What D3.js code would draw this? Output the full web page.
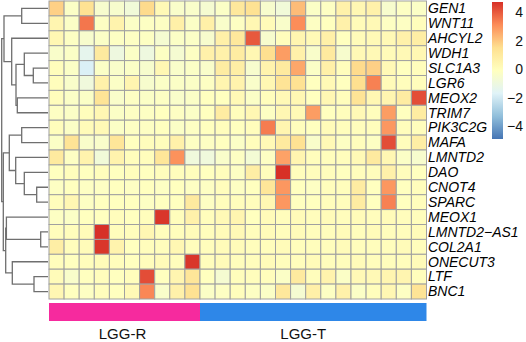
<!DOCTYPE html>
<html><head><meta charset="utf-8">
<script src="https://cdn.jsdelivr.net/npm/d3@7"></script>
<style>body{margin:0;background:#fff}svg{display:block}</style>
</head><body>
<script>
const genes = ["GEN1","WNT11","AHCYL2","WDH1","SLC1A3","LGR6","MEOX2","TRIM7","PIK3C2G","MAFA","LMNTD2","DAO","CNOT4","SPARC","MEOX1","LMNTD2\u2212AS1","COL2A1","ONECUT3","LTF","BNC1"];
const samples = d3.range(1, 26).map(i => "S" + i);
const groupNames = ["LGG-R", "LGG-T"];
const groupCounts = [10, 15];
const groupColors = ["#F62A9E", "#2E87E8"];
const legendTicks = [4, 2, 0, -2, -4];
const colorDomain = [-4.9, 4.7];
const palette = ["#4575B4","#91BFDB","#E0F3F8","#FFFFBF","#FEE090","#FC8D59","#D73027"];

const values = [
 [1.8,-0.3,1.4,-0.5,-0.5,-0.8,1.6,0.2,-0.4,-0.4,-0.6,-0.3,1.1,1.4,-0.5,-0.8,2.2,-0.3,-0.2,0.6,0.3,0.6,-0.5,-0.2,-0.3],
 [0.4,-0.3,3.5,-0.2,0.5,-0.3,-0.2,-0.2,0.7,-0.3,0.7,-0.4,-0.2,0.3,0.1,-0.4,3.1,-0.2,-0.1,0.6,0.1,0.2,-0.2,-0.2,0],
 [0.3,-0.2,-0.5,-0.3,-0.2,-0.2,-0.2,-0.6,-0.3,-0.3,-0.5,0.7,1.1,4.0,-0.5,0,0.4,0.2,0.7,-0.1,0.1,0.2,0.2,0.6,0.8],
 [-0.4,-0.3,-1.4,1.0,-1.0,-0.3,-1.0,-0.2,-0.6,-0.2,0.6,0.6,0.9,0.3,1.5,2.8,0.6,-0.4,1.0,-0.5,0.2,0.2,0.1,0.2,0.3],
 [0,-0.3,-1.8,-0.3,-0.4,-0.3,-0.5,0.3,-0.4,-0.3,-0.4,0.9,0.8,-0.5,0.5,1.0,2.6,-0.3,0.7,0,1.6,1.8,0.2,-0.1,0],
 [0,-0.4,-0.9,0.6,-0.3,0.4,-0.5,-0.3,-0.3,-0.3,-0.2,0.4,0.5,-0.4,0.3,1.3,1.4,-0.1,0.2,-0.1,1.5,3.3,0.1,0,0],
 [0,-0.3,-0.3,1.3,-0.4,-0.2,-0.3,-0.2,-0.4,-0.3,-0.1,-0.1,0.2,-0.3,0,0.2,0.3,-0.1,0.3,0,1.3,0.3,0.4,0.9,4.2],
 [-0.2,-0.3,0,0.3,-0.3,-0.2,-0.2,-0.1,-0.2,-0.3,-0.1,0.9,0,0.3,-0.2,0.3,0.2,2.8,-0.1,0,0.2,0,2.8,-0.1,0.9],
 [0,-0.3,0.1,0.2,-0.3,-0.2,-0.2,-0.1,-0.3,-0.2,-0.1,0,-0.1,0,3.4,0.4,0,-0.1,0.1,0,0,0,2.9,0,0],
 [-0.3,1.3,-0.4,-0.4,1.2,-0.1,0,0,0.6,-0.2,-0.2,-0.1,-0.3,0,0.2,1.0,1.4,-0.4,0.2,-0.2,0,-0.2,4.2,0,0.8],
 [1.0,-0.2,0.5,-0.8,0.5,0,0,1.2,3.0,-0.9,-0.9,-0.4,-0.2,-0.7,-0.2,2.7,0.4,0,0,0,0.2,1.0,0.3,-0.3,-0.5],
 [-0.1,0,-0.1,0,-0.1,0,-0.1,0,0,0,-0.1,0,-0.2,0.8,0,4.7,0,0,0,-0.1,0,0,0.6,0,-0.1],
 [-0.2,-0.1,-0.2,-0.2,-0.1,-0.2,-0.1,-0.2,-0.1,-0.2,-0.2,0,-0.2,-0.1,1.2,2.9,-0.1,-0.2,0,0,0.9,-0.1,2.9,-0.1,0],
 [0,0.3,-0.2,-0.1,-0.1,-0.1,-0.2,-0.1,-0.1,1.0,-0.2,0,0,0,0.3,2.9,-0.1,-0.1,0,0,0.9,-0.1,3.3,-0.1,0],
 [-0.2,-0.3,-0.1,-0.1,0,-0.1,0,4.6,0,0.6,0,0.2,0.4,-0.1,0.1,0,0.1,0,0.1,0,0.1,0,0.1,0,0],
 [0,0,0.1,4.7,0,0,0.3,0,0,0.1,0,0.1,0.2,0,0.1,0,0.1,0,0,0.1,0,0.1,0,0,0.1],
 [0.8,0,0.1,4.6,0.5,-0.1,0,0,0.3,0,0,0.1,0.1,0,0,0.1,0,0,0,0.1,0,0,0,0.1,0],
 [0,-0.1,0,0.1,0,-0.1,0,0.1,0,4.6,0,0.1,0,0,0.1,0,0,0.1,0,0,0.1,0,0,0,0.1],
 [0.1,-0.4,-0.1,0,-0.1,0,4.2,-0.1,0.4,1.2,-0.1,-0.6,0,0,0,-0.3,1.0,0,0.5,-0.3,0.2,0.2,0.4,0.4,0],
 [0.3,-0.1,-0.2,0,-0.1,0.2,3.2,-0.4,0.6,1.4,-0.3,-0.2,0,-0.2,-0.3,1.1,-0.6,0.7,-0.2,0.6,-0.3,0,0.3,-0.2,1.3]
];

// row dendrogram: merge heights (h) and children (gene indices or sub-nodes)
const rowTree = {h: 46.3, c: [
  {h: 44, c: [ {h: 26.3, c: [0, 1]},
               {h: 36.3, c: [2, {h: 32, c: [ {h: 23.7, c: [3, {h: 14.7, c: [4, 5]}]}, {h: 30.7, c: [6, 7]} ]}]} ]},
  {h: 44.7, c: [ {h: 38.7, c: [ {h: 26.3, c: [8, 9]}, {h: 32.3, c: [10, {h: 23.7, c: [11, {h: 11.3, c: [12, 13]}]}]} ]},
                 {h: 42.3, c: [ {h: 41.6, c: [14, {h: 7.3, c: [15, 16]}]}, {h: 35.7, c: [17, {h: 14, c: [18, 19]}]} ]} ]}
]};

const W = 526, H = 342;
const svg = d3.select("body").append("svg").attr("width", W).attr("height", H);
const font = "'Liberation Sans', Arial, Helvetica, sans-serif";

const x = d3.scaleBand().domain(samples).range([49, 426.5]);
const y = d3.scaleBand().domain(genes).range([1, 299]);
const stops = palette.map((_, i) => colorDomain[0] + i * (colorDomain[1] - colorDomain[0]) / (palette.length - 1));
const color = d3.scaleLinear().domain(stops).range(palette).interpolate(d3.interpolateRgb).clamp(true);

// cells
const cells = [];
values.forEach((row, r) => row.forEach((v, c) => cells.push({g: genes[r], s: samples[c], v})));
svg.append("g").selectAll("rect").data(cells).join("rect")
  .attr("x", d => x(d.s)).attr("y", d => y(d.g))
  .attr("width", x.bandwidth()).attr("height", y.bandwidth())
  .attr("fill", d => color(d.v))
  .attr("stroke", "#a0a0a0").attr("stroke-width", 1);

// row labels
svg.append("g").selectAll("text").data(genes).join("text")
  .attr("x", 428).attr("y", d => y(d) + y.bandwidth() / 2 + 4.8)
  .attr("font-family", font).attr("font-size", 14).attr("font-style", "italic")
  .attr("fill", "#000").text(d => d);

// dendrogram
const hx = d3.scaleLinear().domain([0, 47]).range([48, 1]);
const root = d3.hierarchy(rowTree, d => Array.isArray(d.c) ? d.c.map(v => typeof v === "number" ? {leaf: v} : v) : null);
root.eachAfter(n => {
  if (n.children) {
    n.px = hx(n.data.h);
    n.py = d3.mean(n.children, c => c.py);
  } else {
    n.px = hx(0);
    n.py = y(genes[n.data.leaf]) + y.bandwidth() / 2;
  }
});
const internal = root.descendants().filter(n => n.children);
svg.append("g").selectAll("path").data(internal).join("path")
  .attr("d", n => {
    const [a, b] = n.children;
    return `M${a.px},${a.py}H${n.px}V${b.py}H${b.px}`;
  })
  .attr("fill", "none").attr("stroke", "#6f6f6f").attr("stroke-width", 1.3);

// annotation bar
const groups = [];
let start = 0;
groupNames.forEach((g, i) => { groups.push({name: g, first: samples[start], last: samples[start + groupCounts[i] - 1], color: groupColors[i]}); start += groupCounts[i]; });
svg.append("g").selectAll("rect").data(groups).join("rect")
  .attr("x", d => x(d.first)).attr("width", d => x(d.last) + x.bandwidth() - x(d.first))
  .attr("y", 303).attr("height", 18).attr("fill", d => d.color);
const labelShift = [-2, -10];
svg.append("g").selectAll("text").data(groups).join("text")
  .attr("x", (d, i) => (x(d.first) + x(d.last) + x.bandwidth()) / 2 + labelShift[i])
  .attr("y", 338.5).attr("text-anchor", "middle")
  .attr("font-family", font).attr("font-size", 15).attr("fill", "#111").text(d => d.name);

// color legend
const ly = d3.scaleLinear().domain(colorDomain).range([139, 2]);
const defs = svg.append("defs");
const grad = defs.append("linearGradient").attr("id", "lg").attr("x1", 0).attr("y1", 1).attr("x2", 0).attr("y2", 0);
grad.selectAll("stop").data(stops).join("stop")
  .attr("offset", (d, i) => i / (stops.length - 1)).attr("stop-color", d => color(d));
svg.append("rect").attr("x", 492).attr("y", ly(colorDomain[1])).attr("width", 11)
  .attr("height", ly(colorDomain[0]) - ly(colorDomain[1])).attr("fill", "url(#lg)");
svg.append("g").selectAll("text").data(legendTicks).join("text")
  .attr("x", 523).attr("y", d => ly(d) + 5).attr("text-anchor", "end")
  .attr("font-family", font).attr("font-size", 14).attr("fill", "#111")
  .text(d => d < 0 ? "\u2212" + Math.abs(d) : String(d));
</script>
</body></html>
